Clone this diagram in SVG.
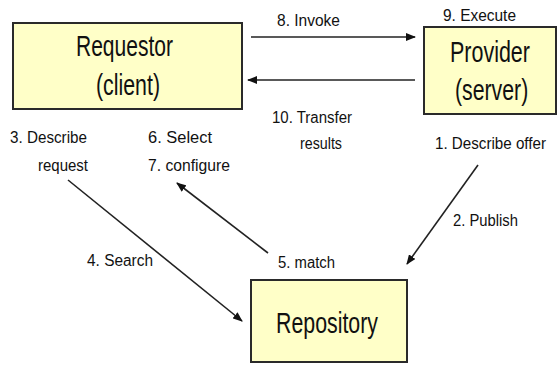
<svg xmlns="http://www.w3.org/2000/svg" width="558" height="365" viewBox="0 0 558 365">
<style>
.box{fill:#ffffc8;stroke:#2a2a2a;stroke-width:2}
.big{font-family:"Liberation Sans",Arial,sans-serif;font-size:30px;fill:#111}
.lbl{font-family:"Liberation Sans",Arial,sans-serif;font-size:16px;fill:#111}
.con{stroke:#222;stroke-width:1.6;fill:none;marker-end:url(#ah)}
</style>
<defs>
<marker id="ah" markerWidth="10" markerHeight="8" refX="9" refY="4" orient="auto" markerUnits="userSpaceOnUse">
<path d="M0,0 L10,4 L0,8 Z" fill="#111"/>
</marker>
</defs>
<rect width="558" height="365" fill="#fff"/>
<g id="requestor">
<rect class="box" x="13" y="23" width="229" height="86"/>
<text class="big" x="76" y="56" textLength="97" lengthAdjust="spacingAndGlyphs">Requestor</text>
<text class="big" x="96" y="95" textLength="64" lengthAdjust="spacingAndGlyphs">(client)</text>
</g>
<g id="provider">
<rect class="box" x="424" y="27" width="132" height="87"/>
<text class="big" transform="translate(450,62) scale(0.716,1)">Provider</text>
<text class="big" transform="translate(455,100) scale(0.709,1)">(server)</text>
</g>
<g id="repository">
<rect class="box" x="251" y="280" width="156" height="82"/>
<text class="big" x="276" y="333" textLength="102" lengthAdjust="spacingAndGlyphs">Repository</text>
</g>
<g id="connectors">
<line class="con" x1="251" y1="37" x2="415" y2="37"/>
<line class="con" x1="415" y1="80" x2="248" y2="80"/>
<line class="con" x1="68" y1="180" x2="242" y2="321"/>
<line class="con" x1="268" y1="253" x2="177" y2="183"/>
<line class="con" x1="478" y1="165" x2="407" y2="264"/>
</g>
<g id="labels">
<text class="lbl" x="277" y="26" textLength="63" lengthAdjust="spacingAndGlyphs">8. Invoke</text>
<text class="lbl" x="443" y="21" textLength="73" lengthAdjust="spacingAndGlyphs">9. Execute</text>
<text class="lbl" x="272" y="123" textLength="80" lengthAdjust="spacingAndGlyphs">10. Transfer</text>
<text class="lbl" x="300" y="149" textLength="42" lengthAdjust="spacingAndGlyphs">results</text>
<text class="lbl" x="435" y="149" textLength="111" lengthAdjust="spacingAndGlyphs">1. Describe offer</text>
<text class="lbl" x="10" y="143" textLength="77" lengthAdjust="spacingAndGlyphs">3. Describe</text>
<text class="lbl" x="38" y="171" textLength="50" lengthAdjust="spacingAndGlyphs">request</text>
<text class="lbl" x="148" y="143" textLength="64" lengthAdjust="spacingAndGlyphs">6. Select</text>
<text class="lbl" x="148" y="171" textLength="82" lengthAdjust="spacingAndGlyphs">7. configure</text>
<text class="lbl" x="453" y="226" textLength="65" lengthAdjust="spacingAndGlyphs">2. Publish</text>
<text class="lbl" x="87" y="266" textLength="66" lengthAdjust="spacingAndGlyphs">4. Search</text>
<text class="lbl" x="278" y="268" textLength="57" lengthAdjust="spacingAndGlyphs">5. match</text>
</g>
</svg>
